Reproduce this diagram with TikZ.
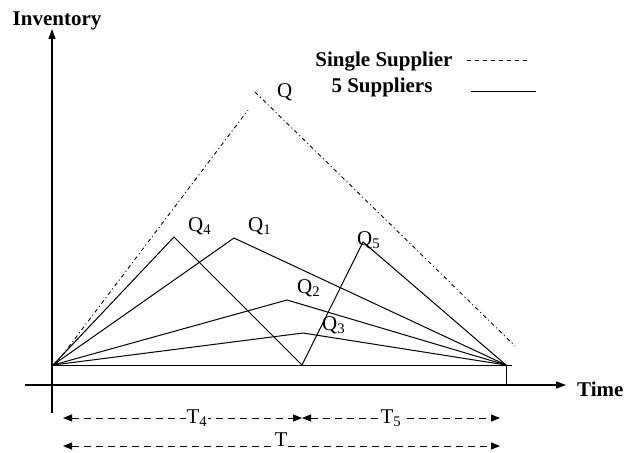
\documentclass[tikz,border=0pt]{standalone}
\usepackage{fontspec}
\setmainfont{Liberation Serif}
\usetikzlibrary{arrows.meta}
\begin{document}
\begin{tikzpicture}[x=1pt,y=-1pt,
  axis/.style={line width=1.1pt,-{Triangle[length=10pt,width=7pt]}},
  curve/.style={line width=1pt, line join=miter},
  dashdot/.style={line width=0.9pt,dash pattern=on 4pt off 3pt on 1pt off 3pt},
  lbl/.style={font=\fontsize{21}{24}\selectfont\bfseries, inner sep=0pt},
  qlbl/.style={font=\fontsize{21}{24}\selectfont, inner sep=0pt, anchor=base west},
  dimline/.style={line width=0.9pt, dash pattern=on 7pt off 5pt, {Triangle[length=9pt,width=7pt]}-{Triangle[length=9pt,width=7pt]}},
  tlbl/.style={font=\fontsize{21}{24}\selectfont, fill=white, inner sep=1pt}
]
\useasboundingbox (0,0) rectangle (636,452);
% axes
\coordinate (ybot) at (52,413);
\coordinate (ytop) at (52,29);
\coordinate (xl) at (25,385);
\coordinate (xr) at (566,385);
\draw[axis] (ybot) -- (ytop);
\draw[axis] (xl) -- (xr);
\node[lbl] (inv) at (57,21) {Inventory};
\node[lbl, anchor=west] (time) at (577,389) {Time};
% points
\coordinate (O) at (53,365);
\coordinate (E) at (506,365);
\coordinate (Bend) at (512,365);
\coordinate (Tk) at (506,385);
\coordinate (P4) at (174,237);
\coordinate (P1) at (234,238);
\coordinate (P2) at (287,300);
\coordinate (P3) at (303,333);
\coordinate (V) at (302,365);
\coordinate (P5) at (363,242);
\coordinate (S0) at (55,365);
\coordinate (S1) at (248,110);
\coordinate (S2) at (255,92);
\coordinate (S3) at (515,346);
% baseline and tick
\draw[curve] (O) -- (Bend);
\draw[curve] (E) -- (Tk);
% five suppliers
\draw[curve] (O) -- (P4) -- (V);
\draw[curve] (O) -- (P1) -- (E);
\draw[curve] (O) -- (P2) -- (E);
\draw[curve] (O) -- (P3) -- (E);
\draw[curve] (V) -- (P5) -- (E);
% single supplier
\draw[dashdot] (S0) -- (S1);
\draw[dashdot] (S2) -- (S3);
% labels
\node[qlbl] (lq) at (277,97) {Q};
\node[qlbl] (lq4) at (188,231) {Q\textsubscript{4}};
\node[qlbl] (lq1) at (248,231) {Q\textsubscript{1}};
\node[qlbl] (lq2) at (297,293) {Q\textsubscript{2}};
\node[qlbl] (lq3) at (322,330) {Q\textsubscript{3}};
\node[qlbl] (lq5) at (357,245) {Q\textsubscript{5}};
% legend
\node[lbl] (leg1) at (384,62) {Single Supplier};
\node[lbl] (leg2) at (382,87) {5 Suppliers};
\coordinate (d1) at (467,60);
\coordinate (d2) at (528,60);
\coordinate (s1) at (471,91);
\coordinate (s2) at (536,91);
\draw[line width=0.9pt, dash pattern=on 4pt off 4pt] (d1) -- (d2);
\draw[line width=1pt] (s1) -- (s2);
% dimension lines
\coordinate (a1) at (63,418);
\coordinate (a2) at (302,418);
\coordinate (a3) at (500,418);
\coordinate (b1) at (63,446);
\coordinate (b2) at (500,446);
\draw[dimline] (a1) -- (a2);
\draw[dimline] (a2) -- (a3);
\draw[dimline] (b1) -- (b2);
\node[tlbl] (t4) at (197,418) {T\textsubscript{4}};
\node[tlbl] (t5) at (391,418) {T\textsubscript{5}};
\node[tlbl, anchor=base, inner sep=0.5pt] (t) at (281,446.5) {T};
\end{tikzpicture}
\end{document}
